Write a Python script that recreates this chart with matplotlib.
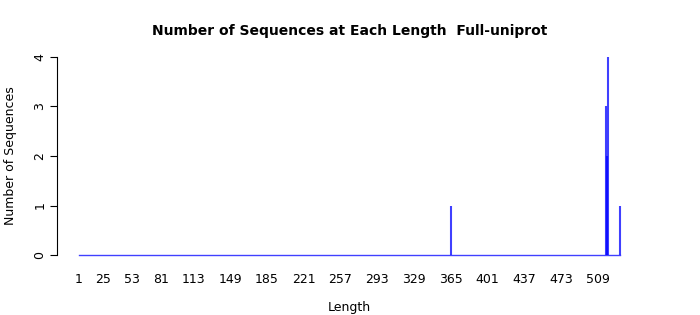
import numpy as np
import matplotlib
matplotlib.use("Agg")
import matplotlib.pyplot as plt

# sequence lengths that occur and how many sequences have them
seq_lengths = [365, 517, 518, 519, 531]
seq_counts = [1, 3, 2, 4, 1]
min_len = 1
max_len = 531
tick_labels = [1, 25, 53, 81, 113, 149, 185, 221, 257, 293, 329, 365, 401, 437, 473, 509]

lengths = np.arange(min_len, max_len + 1)
counts = np.zeros(len(lengths))
for l, c in zip(seq_lengths, seq_counts):
    counts[l - min_len] = c

fig = plt.figure(figsize=(7, 3.15), dpi=100)
ax = fig.add_axes([0.082, 0.165, 0.9166 - 0.082, 0.8444 - 0.165])

line_col = "#0000ff"
ax.plot(lengths, np.zeros(len(lengths)), color=line_col, alpha=0.75, lw=1.0)
ax.vlines(lengths, 0, counts, color=line_col, alpha=0.75, lw=1.5)

span = max_len - min_len
ax.set_xlim(min_len - 0.04 * span, max_len + 0.04 * span)
ax.set_ylim(-0.16, 4.16)

for s in ["top", "right", "bottom"]:
    ax.spines[s].set_visible(False)
ax.spines["left"].set_bounds(0, 4)
ax.spines["left"].set_linewidth(0.8)

ax.set_yticks([0, 1, 2, 3, 4])
ax.set_yticklabels(["0", "1", "2", "3", "4"], rotation=90, va="center", fontsize=9)
ax.tick_params(axis="y", length=5, width=0.8, pad=3)

ax.set_xticks(tick_labels)
ax.set_xticklabels([str(t) for t in tick_labels], fontsize=9)
ax.tick_params(axis="x", length=0, pad=7)

ax.set_xlabel("Length", fontsize=9, labelpad=11)
ax.set_ylabel("Number of Sequences", fontsize=9, labelpad=12)
ax.set_title("Number of Sequences at Each Length  Full-uniprot",
             fontsize=10, fontweight="bold", pad=10)

fig.savefig("out.png", dpi=100)
